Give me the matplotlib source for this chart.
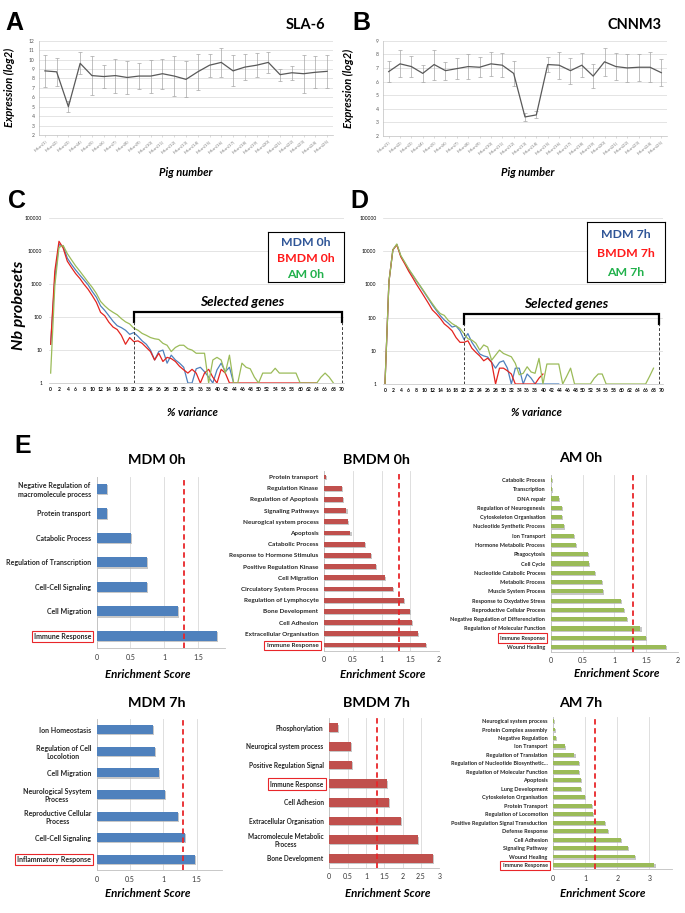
import matplotlib
matplotlib.use('Agg')
import matplotlib.pyplot as plt
import matplotlib.patheffects as pe
import numpy as np

plt.rcParams['font.family'] = ['Lato', 'DejaVu Sans']

# ---- data -------------------------------------------------------------
pig_labels = ['Mean(%d)' % i for i in range(1, 26)]

sla6_mean = [8.8, 8.7, 5.0, 9.6, 8.3, 8.2, 8.3, 8.1, 8.25, 8.25, 8.5, 8.25, 7.9,
             8.7, 9.4, 9.7, 8.8, 9.2, 9.4, 9.7, 8.4, 8.6, 8.5, 8.65, 8.75]
sla6_err = [1.7, 1.5, 0.6, 1.15, 2.1, 1.25, 1.8, 1.75, 1.35, 1.75, 1.6, 2.15, 1.9,
            1.9, 1.2, 1.5, 1.65, 1.35, 1.25, 1.1, 0.65, 0.75, 2.0, 1.7, 1.75]

cnnm3_mean = [6.73, 7.3, 7.1, 6.6, 7.25, 6.8, 6.95, 7.1, 7.05, 7.3, 7.2, 6.6, 3.4,
              3.55, 7.25, 7.2, 6.8, 7.2, 6.4, 7.45, 7.1, 7.0, 7.05, 7.05, 6.65]
cnnm3_err = [0.75, 1.0, 0.75, 0.65, 1.1, 0.65, 0.75, 0.9, 0.75, 0.9, 0.9, 0.9, 0.3,
             0.25, 0.55, 1.0, 0.95, 0.9, 0.9, 1.05, 1.0, 1.0, 1.0, 1.1, 1.0]

# number of probesets per % variance (x = 0, 1, 2, ...)
mdm_0h = [15, 1500, 16000, 14500, 6200, 4000, 2700, 1900, 1350, 950, 600, 400, 220,
          160, 110, 75, 55, 48, 40, 30, 34, 26, 19, 15, 10, 5, 9, 10, 4, 7, 5, 4, 3,
          1, 1, 2.7, 3, 2.2, 1.5, 1, 2.5, 4, 2.2, 3, 1]
bmdm_0h = [15, 2500, 20000, 12500, 5000, 3200, 2100, 1500, 1000, 700, 450, 280, 140,
           110, 70, 50, 42, 28, 15, 24, 18, 19, 16, 12, 9, 5, 8, 4.5, 6, 5.5, 4.5, 3.2,
           2.5, 2, 2.6, 2, 1, 2, 2.6, 1.5, 1, 2.6, 2, 1, 1, 1, 1, 1, 1, 1, 1, 1, 1, 1,
           1, 1, 1, 1, 1, 1, 1, 1, 1, 1, 1]
am_0h = [2, 900, 13000, 15000, 8500, 5500, 3600, 2500, 1700, 1150, 800, 520, 300, 220,
         170, 140, 118, 90, 72, 62, 46, 40, 32, 28, 24, 22, 21, 16, 14, 9, 12, 14, 14,
         11, 10, 8, 8, 8, 1, 5, 6, 5, 2, 7, 1, 1, 4, 3, 2.7, 1.5, 1, 2, 2, 2, 2.8, 2, 2,
         2, 2, 2, 1, 1, 1, 1, 1, 1.5, 2, 1.5, 1]

mdm_7h = [1, 1200, 11000, 16000, 7200, 4500, 2800, 1900, 1250, 850, 560, 370, 240,
          165, 115, 85, 68, 52, 56, 40, 22, 33, 18, 12, 8, 7, 6.5, 4.5, 3, 4.5, 5, 3,
          1, 3, 3, 1, 2, 1.5, 1, 1, 1, 1, 1, 1, 1]
bmdm_7h = [1, 1200, 11000, 15500, 6800, 4200, 2500, 1600, 1000, 650, 420, 270, 170,
           130, 95, 65, 52, 40, 25, 18, 18, 20, 12, 9, 7, 5, 6, 4.5, 1, 3, 3, 2.5, 2,
           1, 1, 1, 1, 1, 1, 1.5, 2]
am_7h = [1, 1200, 11000, 16500, 7400, 4700, 2950, 1950, 1300, 880, 590, 390, 263,
         180, 132, 117, 83, 66, 56, 47, 33, 23, 21, 17, 10.5, 15, 13, 5.2, 7.4, 10.5,
         8.3, 7.4, 6.6, 4.2, 1.9, 2.1, 3.3, 2.3, 2.1, 5.9, 1, 4, 4, 4, 4, 1, 1.7, 3, 1,
         1, 1, 1, 1, 1.5, 2, 2, 1, 1, 1, 1, 1, 1, 1, 1, 1, 1, 1, 1.7, 3]

# enrichment (terms listed top to bottom)
mdm0_terms = ['Negative Regulation of\nmacromolecule process', 'Protein transport',
              'Catabolic Process', 'Regulation of Transcription', 'Cell-Cell Signaling',
              'Cell Migration', 'Immune Response']
mdm0_scores = [0.15, 0.15, 0.51, 0.75, 0.75, 1.21, 1.79]

bmdm0_terms = ['Protein transport', 'Regulation Kinase', 'Regulation of Apoptosis',
               'Signaling Pathways', 'Neurogical system process', 'Apoptosis',
               'Catabolic Process', 'Response to Hormone Stimulus',
               'Positive Regulation Kinase', 'Cell Migration', 'Circulatory System Process',
               'Regulation of Lymphocyte', 'Bone Development', 'Cell Adhesion',
               'Extracellular Organisation', 'Immune Response']
bmdm0_scores = [0.035, 0.31, 0.33, 0.39, 0.42, 0.46, 0.71, 0.81, 0.90, 1.06, 1.20,
                1.39, 1.50, 1.53, 1.64, 1.77]

am0_terms = ['Catabolic Process', 'Transcription', 'DNA repair',
             'Regulation of Neurogenesis', 'Cytoskeleton Organisation',
             'Nucleotide Synthetic Process', 'Ion Transport', 'Hormone Metabolic Process',
             'Phagocytosis', 'Cell Cycle', 'Nucleotide Catabolic Process',
             'Metabolic Process', 'Muscle System Process', 'Response to Oxydative Stress',
             'Reproductive Cellular Process', 'Negative Regulation of Differenciation',
             'Regulation of Molecular Function', 'Immune Response', 'Wound Healing']
am0_scores = [0.02, 0.02, 0.135, 0.17, 0.18, 0.21, 0.36, 0.40, 0.59, 0.60, 0.69, 0.80,
              0.82, 1.11, 1.15, 1.20, 1.41, 1.50, 1.81]

mdm7_terms = ['Ion Homeostasis', 'Regulation of Cell\nLocolotion', 'Cell Migration',
              'Neurological Sysytem\nProcess', 'Reproductive Cellular\nProcess',
              'Cell-Cell Signaling', 'Inflammatory Response']
mdm7_scores = [0.84, 0.88, 0.94, 1.03, 1.22, 1.32, 1.48]

bmdm7_terms = ['Phosphorylation', 'Neurogical system process',
               'Positive Regulation Signal', 'Immune Response', 'Cell Adhesion',
               'Extracellular Organisation', 'Macromolecule Metabolic\nProcess',
               'Bone Development']
bmdm7_scores = [0.245, 0.58, 0.61, 1.57, 1.62, 1.95, 2.42, 2.83]

am7_terms = ['Neurogical system process', 'Protein Complex assembly',
             'Negative Regulation', 'Ion Transport', 'Regulation of Translation',
             'Regulation of Nucleotide Biosynthetic...', 'Regulation of Molecular Function',
             'Apoptosis', 'Lung Development', 'Cytoskeleton Organisation',
             'Protein Transport', 'Regulation of Locomotion',
             'Positive Regulation Signal Transduction', 'Defense Response', 'Cell Adhesion',
             'Signaling Pathway', 'Wound Healing', 'Immune Response']
am7_scores = [0.03, 0.06, 0.08, 0.36, 0.66, 0.81, 0.81, 0.86, 0.875, 0.99, 1.20, 1.23,
              1.61, 1.70, 2.12, 2.32, 2.55, 3.16]

threshold = 1.3

# ---- layout helpers (pixel coordinates, origin top-left) ---------------
W, H = 685, 913
fig = plt.figure(figsize=(W / 100, H / 100), dpi=100)


def rect(l, t, r, b):
    return [l / W, 1 - b / H, (r - l) / W, (b - t) / H]


def ftext(x, y, s, **kw):
    kw.setdefault('ha', 'center')
    kw.setdefault('va', 'center')
    fig.text(x / W, 1 - y / H, s, **kw)


def letter(x, y, s):
    ftext(x, y, s, ha='left', va='baseline', fontsize=18, fontweight='bold',
          family='Liberation Sans')


# ---- A / B : expression per pig ----------------------------------------
def expr_panel(r, means, errs, ylo, yhi):
    ax = fig.add_axes(rect(*r))
    x = np.arange(len(means))
    ax.errorbar(x, means, yerr=errs, color='#595959', lw=0.9, ecolor='#a6a6a6',
                elinewidth=0.5, capsize=1.3, capthick=0.5)
    ax.set_xlim(-0.5, len(means) - 0.5)
    ax.set_ylim(ylo, yhi)
    ax.set_yticks(range(ylo, yhi + 1))
    ax.tick_params(axis='y', labelsize=3.6, length=0, labelcolor='#555555', pad=3)
    ax.set_xticks(x)
    ax.set_xticklabels(pig_labels, rotation=40, ha='right', rotation_mode='anchor',
                       fontsize=3.2, color='#808080')
    ax.tick_params(axis='x', length=1.5, width=0.4, color='#bfbfbf', pad=1.5)
    ax.grid(axis='y', color='#d9d9d9', lw=0.5)
    ax.set_axisbelow(True)
    for s in ['top', 'right']:
        ax.spines[s].set_visible(False)
    for s in ['left', 'bottom']:
        ax.spines[s].set_color('#bfbfbf')
        ax.spines[s].set_linewidth(0.5)
    return ax


letter(5, 30, 'A')
letter(352, 30, 'B')
expr_panel((39, 40.7, 333, 135), sla6_mean, sla6_err, 2, 12)
expr_panel((383, 40.7, 667, 136), cnnm3_mean, cnnm3_err, 2, 9)
ftext(325, 25, 'SLA-6', ha='right', fontsize=10.5, fontweight='bold')
ftext(662, 25, 'CNNM3', ha='right', fontsize=10.5, fontweight='bold')
ftext(9, 87, 'Expression (log2)', rotation=90, fontsize=8, fontweight='bold',
      style='italic')
ftext(348, 88, 'Expression (log2)', rotation=90, fontsize=8, fontweight='bold',
      style='italic')
ftext(186, 173, 'Pig number', fontsize=8, fontweight='bold', style='italic')
ftext(528, 173, 'Pig number', fontsize=8, fontweight='bold', style='italic')


# ---- C / D : distribution of % variance --------------------------------
def var_panel(r, series, sel_end, br_y, cap_y, legend_r, legend_txt):
    ax = fig.add_axes(rect(*r))
    ax.set_yscale('log')
    for vals, col in series:
        ax.plot(np.arange(len(vals)), vals, color=col, lw=0.9)
    ax.set_ylim(1, 100000)
    ax.set_xlim(-0.4, 70.5)
    ax.set_xticks(range(0, 71, 2))
    ax.set_xticklabels([str(v) for v in range(0, 71, 2)], fontsize=3.6,
                       fontweight='bold')
    ax.tick_params(axis='x', length=0, pad=3)
    dec = [1, 10, 100, 1000, 10000, 100000]
    ax.set_yticks(dec)
    ax.set_yticklabels([str(v) for v in dec], fontsize=3.6)
    ax.minorticks_off()
    ax.tick_params(axis='y', length=0, pad=5)
    ax.grid(axis='y', color='#d9d9d9', lw=0.5)
    ax.set_axisbelow(True)
    for s in ['top', 'right', 'left']:
        ax.spines[s].set_visible(False)
    ax.spines['bottom'].set_color('#bfbfbf')
    ax.spines['bottom'].set_linewidth(0.5)
    # selected genes bracket
    ax.plot([20, 20, sel_end, sel_end], [cap_y, br_y, br_y, cap_y], color='black',
            lw=1.6, solid_joinstyle='miter')
    for xv in (20, sel_end):
        ax.plot([xv, xv], [1, cap_y], color='#404040', lw=0.7, ls=(0, (3, 2)))
    ax.text((20 + sel_end) / 2 + 1, br_y * 1.35, 'Selected genes', ha='center',
            va='bottom', fontsize=9.7, fontweight='bold', style='italic')
    # legend box
    lg = fig.add_axes(rect(*legend_r))
    lg.set_xticks([])
    lg.set_yticks([])
    for s in lg.spines.values():
        s.set_linewidth(0.8)
    for i, (t, c) in enumerate(legend_txt):
        lg.text(0.5, 0.8 - i * 0.32, t, color=c, ha='center', va='center',
                fontsize=8.8, fontweight='bold', transform=lg.transAxes)
    return ax


blue_l, red_l, green_l = '#4f81bd', '#e3241f', '#9bbb59'
blue_t, red_t, green_t = '#2f5597', '#ff1a1a', '#22b14c'

letter(8, 208, 'C')
letter(350, 208, 'D')
var_panel((49, 218.3, 343.8, 383),
          [(mdm_0h, blue_l), (bmdm_0h, red_l), (am_0h, green_l)],
          70, 141, 73, (268, 232, 344, 282),
          [('MDM 0h', blue_t), ('BMDM 0h', red_t), ('AM 0h', green_t)])
var_panel((383.4, 218, 663.4, 384),
          [(mdm_7h, blue_l), (bmdm_7h, red_l), (am_7h, green_l)],
          69.5, 126, 63, (587, 222, 665, 282),
          [('MDM 7h', blue_t), ('BMDM 7h', red_t), ('AM 7h', green_t)])
ftext(19, 305, 'Nb probesets', rotation=90, fontsize=11.5, fontweight='bold',
      style='italic')
ftext(192, 413, '% variance', fontsize=8, fontweight='bold', style='italic')
ftext(536, 413, '% variance', fontsize=8, fontweight='bold', style='italic')


# ---- E : enrichment bar charts -------------------------------------------
def enrich_panel(r, terms, scores, color, xmax, xticks, xtl, fs, bh, hl):
    ax = fig.add_axes(rect(*r))
    y = np.arange(len(terms))
    ax.barh(y, scores, height=bh, color=color, edgecolor='none', zorder=3,
            path_effects=[pe.SimplePatchShadow(offset=(0.8, -0.8),
                                               shadow_rgbFace='#b0b0b0', alpha=0.7),
                          pe.Normal()])
    ax.axvline(threshold, color='#e8262a', lw=1.3, ls=(0, (3, 2)), zorder=4)
    ax.set_ylim(len(terms) - 0.5, -0.5)
    ax.set_xlim(0, xmax)
    ax.set_yticks(y)
    ax.set_yticklabels(terms, fontsize=fs, fontweight='bold', color='#262626',
                       multialignment='center')
    ax.set_xticks(xticks)
    ax.set_xticklabels(xtl, fontsize=5, color='#333333')
    ax.tick_params(axis='y', length=0, pad=4)
    ax.tick_params(axis='x', length=0, pad=4)
    ax.grid(axis='x', color='#d9d9d9', lw=0.6)
    ax.set_axisbelow(True)
    for s in ['top', 'right']:
        ax.spines[s].set_visible(False)
    for s in ['left', 'bottom']:
        ax.spines[s].set_color('#bfbfbf')
        ax.spines[s].set_linewidth(0.6)
    for lbl in ax.get_yticklabels():
        if lbl.get_text() == hl:
            lbl.set_bbox(dict(facecolor='white', edgecolor='#e8262a', lw=0.8,
                              pad=1.6))
    return ax


e_blue, e_red, e_green = '#4f81bd', '#c0504d', '#9bbb59'
t05 = [0, 0.5, 1, 1.5]
t05l = ['0', '0.5', '1', '1.5']

letter(14, 453, 'E')
enrich_panel((96.7, 476.7, 224.8, 648), mdm0_terms, mdm0_scores, e_blue, 1.9,
             t05, t05l, 5.0, 0.42, 'Immune Response')
enrich_panel((324, 471.4, 439, 650.6), bmdm0_terms, bmdm0_scores, e_red, 2,
             t05 + [2], t05l + ['2'], 4.6, 0.42, 'Immune Response')
enrich_panel((550.7, 475.4, 678, 651.6), am0_terms, am0_scores, e_green, 2,
             t05 + [2], t05l + ['2'], 4.0, 0.45, 'Immune Response')
enrich_panel((96.7, 719, 221.7, 870), mdm7_terms, mdm7_scores, e_blue, 1.875,
             t05, t05l, 5.0, 0.42, 'Inflammatory Response')
enrich_panel((329.3, 718.3, 439.3, 867.7), bmdm7_terms, bmdm7_scores, e_red, 3,
             [0, 0.5, 1, 1.5, 2, 2.5, 3], ['0', '0.5', '1', '1.5', '2', '2.5', '3'],
             4.7, 0.45, 'Immune Response')
enrich_panel((553.3, 716.8, 671.7, 869.2), am7_terms, am7_scores, e_green, 3.7,
             [0, 1, 2, 3], ['0', '1', '2', '3'], 4.0, 0.47, 'Immune Response')

for x, y, t in [(156.5, 460, 'MDM 0h'), (376.7, 459.5, 'BMDM 0h'), (581, 458.5, 'AM 0h'),
                (156.7, 702.5, 'MDM 7h'), (376.7, 703, 'BMDM 7h'), (581, 703, 'AM 7h')]:
    ftext(x, y, t, fontsize=10.3, fontweight='bold')
for x, y in [(147.5, 674), (383, 674), (617, 673), (147.5, 893), (387.5, 893),
             (603, 893)]:
    ftext(x, y, 'Enrichment Score', fontsize=8.3, fontweight='bold', style='italic')

fig.savefig('out.png', dpi=100)
